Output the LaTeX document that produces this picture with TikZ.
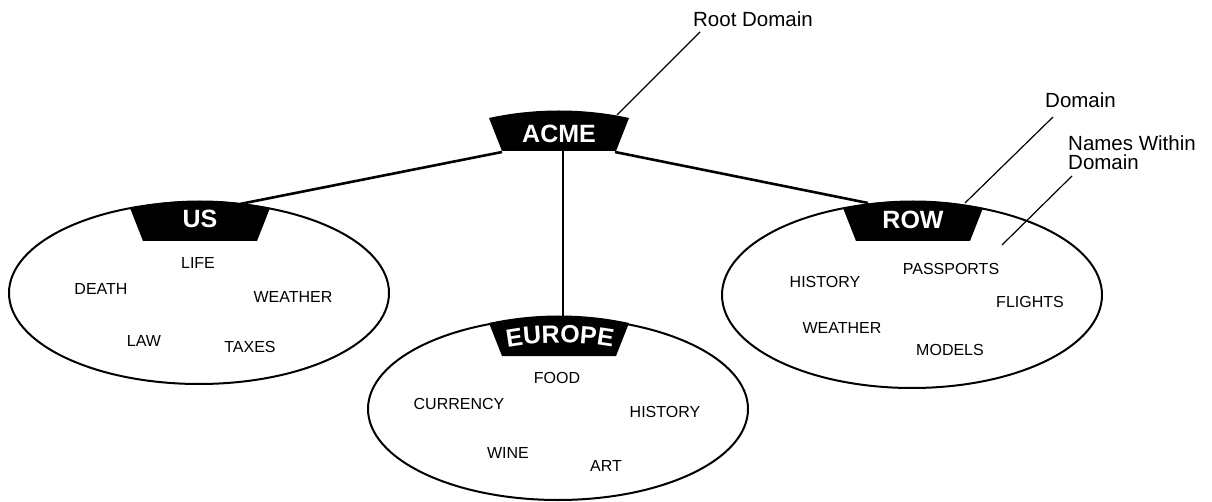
\documentclass[tikz,border=0pt]{standalone}
\usepackage{fontspec}
\setmainfont{Liberation Sans}
\usetikzlibrary{decorations.text}
\newcommand\mybadge[2]{\fill[black] (#1-70,#2) .. controls (#1-25,#2-10) and (#1+25,#2-10) .. (#1+70,#2) -- (#1+57,#2+33) -- (#1-57,#2+33) -- cycle;}
\begin{document}
\begin{tikzpicture}[x=1pt,y=-1pt,
  domainline/.style={line width=2pt},
  conn/.style={line width=2.6pt},
  leader/.style={line width=1.2pt},
  badgetext/.style={text=white, font=\bfseries\fontsize{25}{25}\selectfont, inner sep=0pt},
  item/.style={font=\fontsize{16}{16}\selectfont, inner sep=0pt},
  callout/.style={font=\fontsize{20.5}{19}\selectfont, inner sep=0pt, align=left}]
\useasboundingbox (0,0) rectangle (1212,502);

% connector anchor points
\coordinate (acmeBL) at (502,152);
\coordinate (acmeBC) at (563,150);
\coordinate (acmeBR) at (615,152);
\coordinate (acmeTR) at (617,115);
\coordinate (usTop) at (240,204);
\coordinate (europeTop) at (563,318);
\coordinate (rowTop) at (868,203);
\coordinate (rowTR) at (965,203);
\coordinate (rowIn) at (1002,245);

% connectors
\draw[conn] (acmeBL) -- (usTop);
\draw[conn] (acmeBC) -- (europeTop);
\draw[conn] (acmeBR) -- (rowTop);

% domains
\draw[domainline] (199,293) ellipse [x radius=190, y radius=91];
\draw[domainline] (558,409) ellipse [x radius=190, y radius=91];
\draw[domainline] (912,295) ellipse [x radius=190, y radius=93];

% badges
\mybadge{559}{118}
\mybadge{200}{208}
\mybadge{559}{323}
\mybadge{913}{208}

\node[badgetext] (acme) at (559,134) {ACME};
\node[badgetext] (us) at (200,219) {US};
\node[badgetext] (row) at (913,220) {ROW};
\coordinate (europe) at (559,337);
\path[decorate, decoration={text along path, text color=white, text align=center,
  text={|\bfseries\fontsize{25}{25}\selectfont|EUROPE}}]
  (492,351) .. controls (530,340) and (590,340) .. (628,351);

% callouts
\node[callout] (rootlbl) at (753,19) {Root Domain};
\node[callout, anchor=west] (domlbl) at (1045,100) {Domain};
\node[callout, anchor=north west] (nameslbl) at (1068,135) {Names Within\\Domain};
\coordinate (rootEnd) at (700,32);
\coordinate (domEnd) at (1053,117);
\coordinate (namesEnd) at (1072,176);
\draw[leader] (acmeTR) -- (rootEnd);
\draw[leader] (rowTR) -- (domEnd);
\draw[leader] (rowIn) -- (namesEnd);

% US names
\node[item] (us1) at (198,263) {LIFE};
\node[item] (us2) at (101,289) {DEATH};
\node[item] (us3) at (293,297) {WEATHER};
\node[item] (us4) at (144,341) {LAW};
\node[item] (us5) at (250,347) {TAXES};

% EUROPE names
\node[item] (eu1) at (557,378) {FOOD};
\node[item] (eu2) at (459,404) {CURRENCY};
\node[item] (eu3) at (665,412) {HISTORY};
\node[item] (eu4) at (508,453) {WINE};
\node[item] (eu5) at (606,466) {ART};

% ROW names
\node[item] (row1) at (951,269) {PASSPORTS};
\node[item] (row2) at (825,282) {HISTORY};
\node[item] (row3) at (1030,302) {FLIGHTS};
\node[item] (row4) at (842,328) {WEATHER};
\node[item] (row5) at (950,350) {MODELS};
\end{tikzpicture}
\end{document}
